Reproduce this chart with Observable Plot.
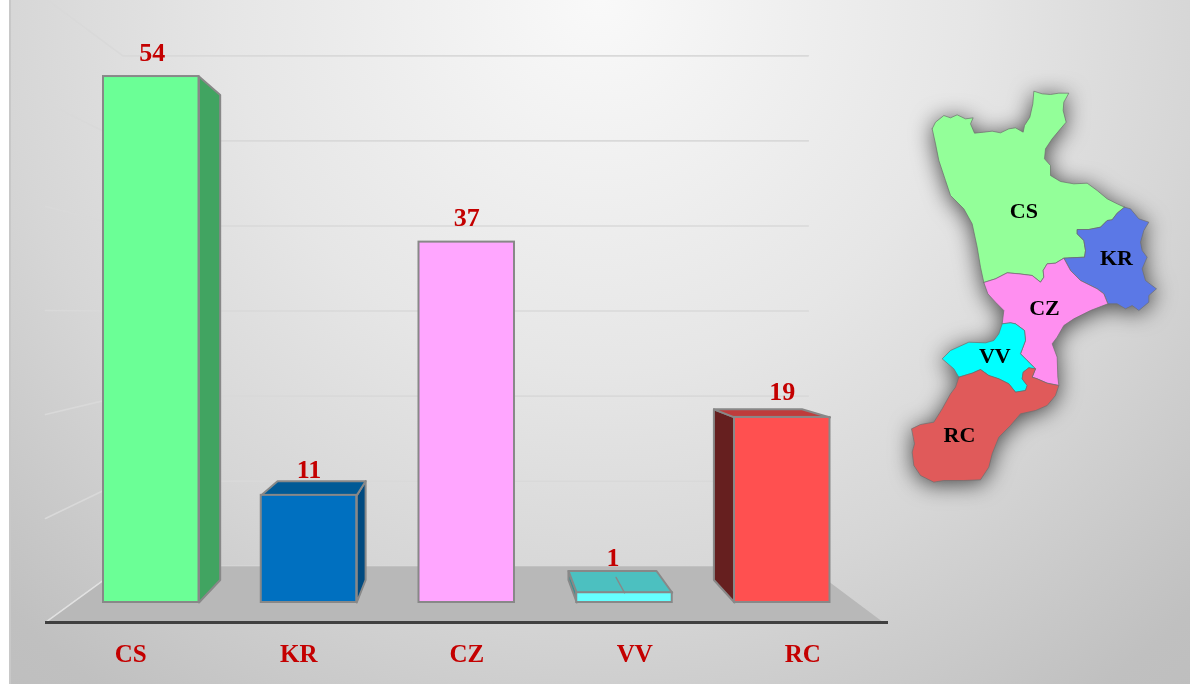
<!DOCTYPE html>
<html>
<head>
<meta charset="utf-8">
<script src="https://cdn.jsdelivr.net/npm/d3@7"></script>
<script src="https://cdn.jsdelivr.net/npm/@observablehq/plot@0.6"></script>
<style>html,body{margin:0;padding:0;background:#fff;overflow:hidden}</style>
</head>
<body>
<div id="chart"></div>
<script>
// ---- chart values ----
const categories = ["CS", "KR", "CZ", "VV", "RC"];
const values = [54, 11, 37, 1, 19];
const frontColors = ["#6bff96", "#0070c0", "#ffa6ff", "#66ffff", "#ff5050"];
const sideColors = ["#41a461", "#004a80", "#c080c0", "#3d9090", "#661f1f"];
const topColors = ["#50c070", "#005a96", "#d088d0", "#4cc0c0", "#bf3c3c"];
const labelLift = [15, 2, 15, 4, 8];      // px above the visible top edge
const labelShift = [1, 0, 0, -11.5, 0];   // px beside the bar centre
const wallLevels = [0, 1, 2, 3, 4, 5, 6];

// ---- Calabria map outlines, in map units ----
const mapCS = [[95,145],[105,125],[130,105],[150,112],[170,103],[195,115],[218,112],[210,130],[222,158],[250,155],[275,152],[300,157],[325,145],[345,142],[368,155],[372,135],[388,110],[397,70],[400,32],[425,40],[450,42],[475,38],[505,38],[490,65],[488,90],[497,125],[480,145],[455,175],[435,205],[432,235],[450,255],[450,285],[480,303],[520,310],[560,308],[590,330],[620,355],[650,370],[672,380],[650,398],[635,418],[620,420],[600,440],[565,447],[530,447],[530,460],[550,480],[555,510],[552,530],[510,532],[490,533],[465,548],[440,550],[428,570],[430,590],[420,605],[395,585],[355,580],[320,577],[285,595],[250,606],[240,560],[230,500],[215,430],[190,385],[150,345],[135,300],[115,240],[105,190],[95,145]];
const mapKR = [[672,380],[690,385],[715,415],[745,425],[730,450],[720,485],[725,510],[740,530],[725,565],[735,600],[768,625],[745,645],[745,665],[715,690],[695,675],[675,685],[650,670],[622,670],[610,640],[590,625],[540,600],[510,570],[490,533],[510,532],[552,530],[555,510],[550,480],[530,460],[530,447],[565,447],[600,440],[620,420],[635,418],[650,398],[672,380]];
const mapCZ = [[250,606],[285,595],[320,577],[355,580],[395,585],[420,605],[430,590],[428,570],[440,550],[465,548],[490,533],[510,570],[540,600],[590,625],[610,640],[622,670],[570,690],[520,715],[490,735],[470,770],[455,790],[470,830],[472,890],[475,915],[440,908],[410,895],[395,890],[405,865],[380,840],[360,820],[375,780],[372,750],[345,730],[330,727],[305,730],[310,690],[285,665],[262,640],[250,606]];
const mapVV = [[305,730],[330,727],[345,730],[372,750],[375,780],[360,820],[380,840],[405,865],[385,862],[368,875],[365,895],[380,915],[375,930],[345,935],[325,910],[295,895],[265,885],[240,867],[215,878],[175,890],[160,865],[125,835],[150,810],[205,785],[255,787],[280,780],[295,760],[305,730]];
const mapRC = [[175,890],[215,878],[240,867],[265,885],[295,895],[325,910],[345,935],[375,930],[380,915],[365,895],[368,875],[385,862],[405,865],[395,890],[410,895],[440,908],[475,915],[465,945],[440,975],[405,990],[360,1000],[330,1035],[295,1070],[275,1120],[265,1160],[240,1198],[190,1200],[130,1200],[100,1205],[60,1185],[40,1155],[35,1115],[42,1090],[33,1045],[60,1032],[100,1025],[125,985],[150,940],[165,920],[175,890]];
const mapOutlines = [mapCS, mapKR, mapCZ, mapVV, mapRC];
const mapColors = ["#93ff99", "#5b78e6", "#ff8ff0", "#00ffff", "#e05a5a"];
const mapLabels = [[370,390], [648,531], [432,81 + 600], [283,225 + 600], [177,462 + 600]];

// ---- scale set-up: one slot per bar, one unit per municipality count ----
const W = 1190, H = 684;
const slotPx = 157.75, unitPx = 9.74, originX = 103, originY = 602;
const barWidth = 95.5 / slotPx;
const xDomain = [-originX / slotPx, (W - originX) / slotPx];
const yDomain = [(originY - H) / unitPx, originY / unitPx];

// perspective of the 3D chart: points recede towards a vanishing point
const vp = {x: (470 - originX) / slotPx, y: (originY - 313) / unitPx};
const barDepth = 0.078, wallDepth = 0.182;
const recede = ([x, y], t) => [x + t * (vp.x - x), y + t * (vp.y - y)];

const faces = [];
const addFace = (name, pts, fill) => pts.concat([pts[0]]).forEach(p => faces.push({face: name, x: p[0], y: p[1], fill}));
const labelTops = [];
categories.forEach((c, i) => {
  const v = values[i], l = i, r = i + barWidth;
  const back = p => recede(p, barDepth);
  let top = v;
  if (r < vp.x) addFace(c + "-r", [[r,0],[r,v],back([r,v]),back([r,0])], sideColors[i]);
  if (l > vp.x) addFace(c + "-l", [[l,0],[l,v],back([l,v]),back([l,0])], sideColors[i]);
  if (v < vp.y) {
    addFace(c + "-t", [[l,v],[r,v],back([r,v]),back([l,v])], topColors[i]);
    top = back([l,v])[1];
  }
  labelTops.push(top);
});

// VV's thin bar shows a short seam on its top face
const vvIndex = categories.indexOf("VV");
const seamStart = [vvIndex + barWidth / 2, values[vvIndex]];
const seam = [seamStart, recede(seamStart, barDepth * 0.7)];

// floor and wall (levels are 104 px apart on the front plane)
const wallBase = (originY - 622) / unitPx, wallStep = 104 / unitPx;
const frontL = (45 - originX) / slotPx, frontR = (888 - originX) / slotPx;
const floorR = (883 - originX) / slotPx;
const floor = [[frontL, wallBase], [floorR, wallBase], recede([floorR, wallBase], wallDepth), recede([frontL, wallBase], wallDepth), [frontL, wallBase]];
const wallLines = wallLevels.flatMap(k => {
  const y = wallBase + k * wallStep;
  const f = [frontL, y], b = recede(f, wallDepth), e = recede([floorR, y], wallDepth);
  return [{k, x: f[0], y: f[1]}, {k, x: b[0], y: b[1]}, {k, x: e[0], y: e[1]}];
});

// map units -> chart scales
const mapX = m => (900 + m / 3 - originX) / slotPx;
const mapY = m => (originY - (80 + m / 3)) / unitPx;
const mapPoints = mapOutlines.flatMap((o, i) => o.map(p => ({id: categories[i], x: mapX(p[0]), y: mapY(p[1]), fill: mapColors[i]})));

// tick labels spread out 6.5% around the chart's centre
const tickX = i => { const c = i + barWidth / 2, m = 2 + barWidth / 2; return m + (c - m) * 1.065; };
const tickY = (originY - 653) / unitPx;

const serif = "Liberation Serif";
const labelRed = "#c40000";

const shadow = (index, scales, vals, dims, ctx, next) => {
  const g = next(index, scales, vals, dims, ctx);
  g.style.filter = "drop-shadow(0px 3px 11px rgba(0,0,0,0.68))";
  return g;
};

const plot = Plot.plot({
  width: W, height: H,
  marginTop: 0, marginRight: 0, marginBottom: 0, marginLeft: 0,
  x: {domain: xDomain, range: [0, W], axis: null},
  y: {domain: yDomain, range: [H, 0], axis: null},
  color: {type: "identity"},
  style: {
    display: "block",
    filter: "blur(0.5px)",
    background: "linear-gradient(to right, #fff 9px, #c8c8c8 9px, #c8c8c8 11px, transparent 11px), radial-gradient(circle 1000px at 600px 0px, #f9f9f9 0%, #e6e6e6 37%, #d6d6d6 60%, #c0c0c0 85%, #bcbcbc 100%)"
  },
  marks: [
    Plot.line(wallLines, {x: "x", y: "y", z: "k", stroke: "#d9d9d9", strokeWidth: 1.6, curve: "linear"}),
    Plot.line(floor, {x: d => d[0], y: d => d[1], fill: "#b8b8b8", stroke: "none", curve: "linear"}),
    Plot.line([floor[0], floor[3]], {x: d => d[0], y: d => d[1], stroke: "#e2e2e2", strokeWidth: 1.5}),
    Plot.line(faces, {x: "x", y: "y", z: "face", fill: "fill", stroke: "#888", strokeWidth: 2, strokeLinejoin: "round", curve: "linear"}),
    Plot.rect(values, {x1: (d, i) => i, x2: (d, i) => i + barWidth, y1: 0, y2: d => d, fill: (d, i) => frontColors[i], stroke: "#888", strokeWidth: 2}),
    Plot.line(seam, {x: d => d[0], y: d => d[1], stroke: "#888", strokeWidth: 1.5}),
    Plot.ruleY([wallBase], {x1: frontL, x2: frontR, stroke: "#404040", strokeWidth: 3}),
    Plot.text(values, {
      x: (d, i) => i + barWidth / 2 + labelShift[i] / slotPx,
      y: (d, i) => labelTops[i] + labelLift[i] / unitPx,
      text: d => String(d), lineAnchor: "bottom", dy: -1,
      fontFamily: serif, fontWeight: "bold", fontSize: 26, fill: labelRed
    }),
    Plot.text(categories, {
      x: (d, i) => tickX(i), y: tickY, text: d => d,
      fontFamily: serif, fontWeight: "bold", fontSize: 25, fill: labelRed
    }),
    Plot.line(mapPoints, {x: "x", y: "y", z: "id", fill: "fill", stroke: "#6e6e6e", strokeWidth: 0.7, curve: "linear", render: shadow}),
    Plot.text(categories, {
      x: (d, i) => mapX(mapLabels[i][0]), y: (d, i) => mapY(mapLabels[i][1]), text: d => d,
      fontFamily: serif, fontWeight: "bold", fontSize: 22, fill: "#000"
    })
  ]
});
document.getElementById("chart").append(plot);
</script>
</body>
</html>
